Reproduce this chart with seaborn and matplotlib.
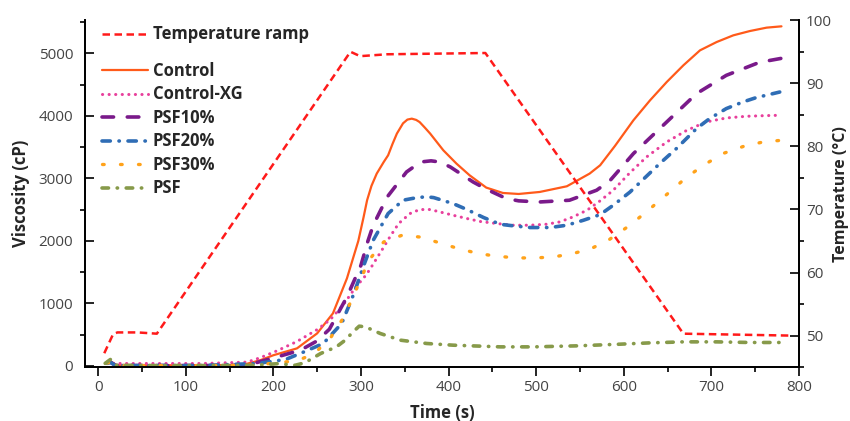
import matplotlib
matplotlib.use("Agg")
import matplotlib.pyplot as plt
import seaborn as sns
import pandas as pd
from matplotlib.ticker import MultipleLocator

sns.set_theme(style="ticks")
plt.rcParams["font.family"] = ["Open Sans", "DejaVu Sans"]

# Temperature programme (right axis)
temp_time = [7, 17, 22, 45, 67, 288, 299, 330, 442, 668, 789]
temp_val = [47.2, 50.2, 50.5, 50.5, 50.3, 95.0, 94.3, 94.6, 94.8, 50.3, 50.0]

# Viscosity curves (left axis)
control_t = [10, 14, 20, 60, 120, 165, 185, 200, 227, 250, 268, 284, 297, 303, 307, 312, 318, 326, 331, 336,
             341, 348, 353, 358, 363, 367, 373, 379, 394, 409, 424, 443, 462, 480, 504, 535, 561, 573, 590,
             611, 630, 649, 668, 687, 706, 725, 744, 763, 780]
control_v = [50, 75, 15, 10, 10, 15, 90, 170, 280, 520, 840, 1400, 2000, 2380, 2650, 2880, 3076, 3262, 3369,
             3550, 3716, 3880, 3940, 3955, 3935, 3900, 3810, 3716, 3449, 3236, 3049, 2852, 2766, 2750, 2782,
             2873, 3076, 3209, 3520, 3929, 4249, 4541, 4808, 5048, 5181, 5288, 5357, 5411, 5432]

xg_t = [10, 14, 20, 60, 120, 170, 185, 204, 227, 250, 265, 280, 293, 305, 310, 318, 326, 333, 343, 356, 367,
        379, 390, 405, 421, 436, 455, 474, 493, 512, 527, 542, 558, 573, 588, 607, 626, 649, 672, 694, 717,
        740, 763, 778]
xg_v = [50, 45, 38, 38, 38, 60, 130, 240, 390, 580, 740, 980, 1240, 1440, 1540, 1720, 1900, 2063, 2277, 2437,
        2501, 2501, 2463, 2410, 2357, 2310, 2277, 2250, 2250, 2266, 2303, 2383, 2490, 2640, 2810, 3090, 3342,
        3582, 3769, 3902, 3966, 3993, 4004, 4009]

psf10_t = [10, 14, 20, 60, 120, 170, 198, 231, 250, 264, 284, 300, 308, 314, 330, 352, 368, 380, 390, 402, 428,
           444, 466, 480, 504, 538, 569, 584, 611, 649, 683, 717, 751, 763, 780]
psf10_v = [45, 60, 5, 5, 5, 11, 118, 251, 400, 587, 1103, 1610, 2000, 2250, 2703, 3102, 3262, 3280, 3262, 3182,
           2942, 2820, 2677, 2640, 2622, 2650, 2810, 2960, 3396, 3902, 4355, 4648, 4835, 4877, 4920]

psf20_t = [10, 14, 20, 60, 120, 181, 214, 235, 257, 278, 292, 303, 314, 331, 348, 364, 375, 383, 405, 421, 440,
           459, 474, 493, 516, 535, 554, 573, 588, 607, 641, 660, 683, 698, 717, 736, 751, 778]
psf20_v = [40, 55, 5, 5, 5, 38, 102, 224, 358, 678, 1158, 1600, 2010, 2437, 2650, 2692, 2705, 2692, 2597, 2501,
           2373, 2265, 2240, 2213, 2213, 2250, 2330, 2420, 2570, 2780, 3236, 3476, 3796, 3956, 4116, 4222, 4291,
           4381]

psf30_t = [10, 14, 20, 60, 120, 180, 202, 227, 247, 266, 280, 290, 299, 309, 326, 347, 368, 390, 411, 434, 455,
           478, 499, 520, 542, 563, 584, 607, 628, 651, 672, 694, 715, 737, 759, 780]
psf30_v = [45, 55, 5, 5, 5, 10, 48, 80, 198, 464, 770, 1077, 1360, 1690, 1983, 2090, 2060, 1967, 1877, 1797,
           1754, 1727, 1727, 1743, 1797, 1877, 2026, 2250, 2490, 2766, 3022, 3236, 3406, 3513, 3582, 3609]

psf_t = [8, 14, 20, 60, 120, 180, 205, 225, 236, 254, 272, 282, 291, 298, 305, 322, 345, 375, 405, 459, 497,
         546, 596, 630, 668, 706, 744, 778]
psf_v = [40, 102, 10, 5, 5, 10, 35, 10, 50, 198, 304, 411, 544, 635, 625, 518, 411, 358, 331, 304, 304, 320,
         347, 368, 384, 384, 374, 374]

# name, times, values, colour, width (pt), dash pattern (round caps)
series = [
    ("Control", control_t, control_v, "#FF5A1A", 1.6, ""),
    ("Control-XG", xg_t, xg_v, "#E8409C", 2.2, (0.05, 2.1)),
    ("PSF10%", psf10_t, psf10_v, "#7A1A8A", 2.6, (3.2, 3.8)),
    ("PSF20%", psf20_t, psf20_v, "#2F6DB5", 2.6, (2.3, 2.4, 0.1, 2.4)),
    ("PSF30%", psf30_t, psf30_v, "#FFA21A", 2.4, (0.5, 4.9)),
    ("PSF", psf_t, psf_v, "#879A4A", 2.6, (1.8, 2.4, 0.1, 2.4)),
]

fig = plt.figure(figsize=(8.5, 4.21), dpi=100)
ax = fig.add_axes([0.1, 0.128, 0.84, 0.824])
ax2 = ax.twinx()

tick_color = "#444444"
for name, t, v, color, lw, dash in series:
    df = pd.DataFrame({"Time": t, "Viscosity": v})
    sns.lineplot(data=df, x="Time", y="Viscosity", ax=ax, color=color, linewidth=lw,
                 estimator=None, sort=False, label=name)
    line = ax.lines[-1]
    line.set_dash_capstyle("round")
    line.set_solid_capstyle("round")
    if dash:
        line.set_dashes(dash)

tdf = pd.DataFrame({"Time": temp_time, "Temperature": temp_val})
sns.lineplot(data=tdf, x="Time", y="Temperature", ax=ax2, color="#FF1A1A", linewidth=1.8,
             estimator=None, sort=False, label="Temperature ramp")
ax2.lines[-1].set_dashes((3.0, 1.8))

ax.set_xlim(-15, 800)
ax.set_ylim(-20, 5530)
ax2.set_ylim(45, 100)

ax.xaxis.set_major_locator(MultipleLocator(100))
ax.xaxis.set_minor_locator(MultipleLocator(50))
ax.yaxis.set_major_locator(MultipleLocator(1000))
ax.yaxis.set_minor_locator(MultipleLocator(500))
ax2.yaxis.set_major_locator(MultipleLocator(10))
ax2.yaxis.set_minor_locator(MultipleLocator(5))
ax2.set_yticks([50, 60, 70, 80, 90, 100])

for a in (ax, ax2):
    a.tick_params(axis="both", which="major", length=6.5, width=1.2, color="black",
                  labelsize=11, labelcolor=tick_color, pad=3)
    a.tick_params(axis="both", which="minor", length=3.5, width=1.2, color="black")
    for s in a.spines.values():
        s.set_linewidth(1.3)
        s.set_color("black")
    a.spines["top"].set_visible(False)
ax.tick_params(axis="x", which="both", direction="out")
ax.tick_params(axis="y", which="major", direction="in", pad=8.5)
ax.tick_params(axis="y", which="minor", direction="out")
ax2.tick_params(axis="y", which="major", direction="in", pad=5)
ax2.tick_params(axis="y", which="minor", direction="out")

ax.set_xlabel("Time (s)", fontsize=12, fontweight="bold", labelpad=6)
ax.set_ylabel("Viscosity (cP)", fontsize=12, fontweight="bold", labelpad=6)
ax2.set_ylabel("Temperature (°C)", fontsize=11.5, fontweight="bold", labelpad=0.5)

leg_kw = dict(frameon=False, handlelength=2.75, handletextpad=0.3,
              borderaxespad=0, borderpad=0, prop={"weight": "bold", "size": 12})
ax.legend(loc="upper left", bbox_to_anchor=(0.0236, 0.880), labelspacing=0.33, **leg_kw)
ax2.legend(loc="upper left", bbox_to_anchor=(0.0236, 0.985), **leg_kw)

fig.savefig("out.png", dpi=100)
